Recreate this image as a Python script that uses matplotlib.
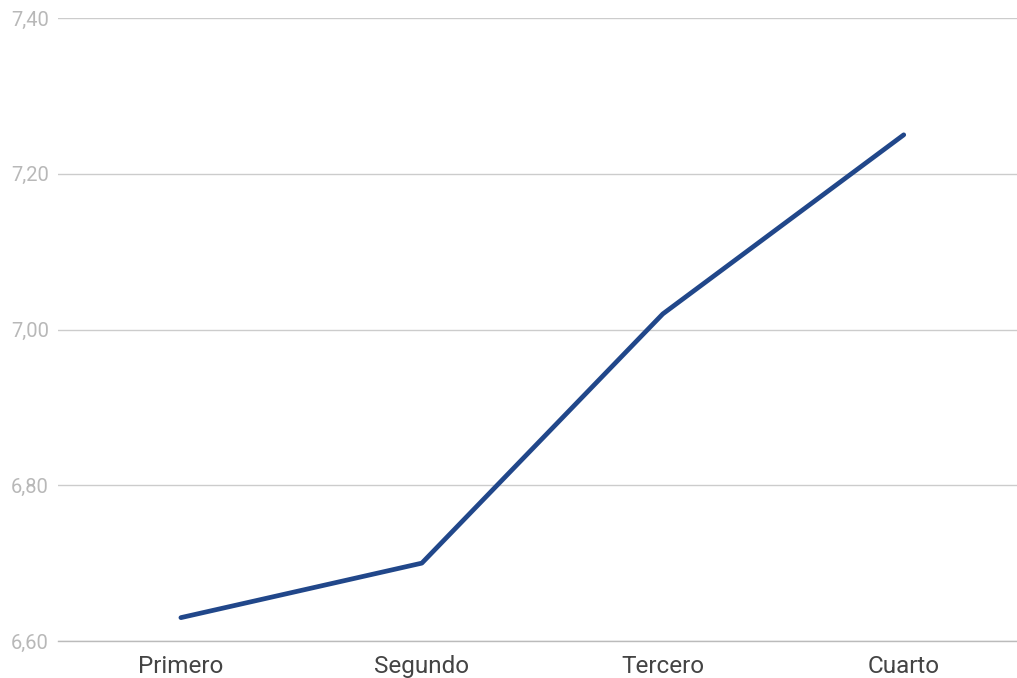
import matplotlib
matplotlib.use("Agg")
import matplotlib.pyplot as plt
from matplotlib.ticker import FuncFormatter

# quarterly averages
periodos = ["Primero", "Segundo", "Tercero", "Cuarto"]
promedio = [6.63, 6.70, 7.02, 7.25]
y_ticks = [6.60, 6.80, 7.00, 7.20, 7.40]

plt.rcParams['font.family'] = ['Roboto', 'DejaVu Sans']

fig = plt.figure(figsize=(10.17, 6.78), dpi=100)
ax = fig.add_axes([58 / 1017, 37 / 678, (1017 - 58) / 1017, (641 - 18) / 678])

x = range(len(periodos))
ax.plot(x, promedio, color='#21478a', linewidth=3.4, solid_capstyle='round', zorder=3)

ax.set_xlim(-0.51, 3.47)
ax.set_ylim(6.60, 7.40)
ax.set_yticks(y_ticks)
ax.yaxis.set_major_formatter(FuncFormatter(lambda v, _: f"{v:.2f}".replace('.', ',')))
ax.set_xticks(list(x))
ax.set_xticklabels(periodos)

ax.grid(axis='y', color='#cccccc', linewidth=1)
ax.set_axisbelow(True)
for side in ['top', 'right', 'left']:
    ax.spines[side].set_visible(False)
ax.spines['bottom'].set_color('#bbbbbb')
ax.spines['bottom'].set_linewidth(1)

ax.tick_params(axis='y', length=0, pad=6.5, labelsize=14.5, labelcolor='#b8b8b8')
ax.tick_params(axis='x', length=0, pad=10, labelsize=17.5, labelcolor='#444444')

fig.savefig("out.png", dpi=100)
